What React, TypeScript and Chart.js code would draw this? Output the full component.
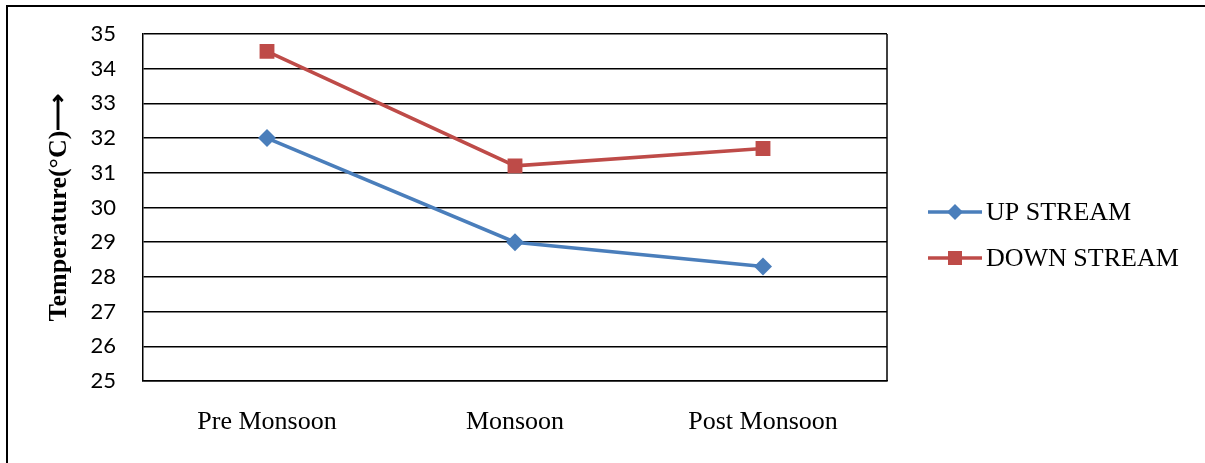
import React, { useEffect, useRef } from "react";
import { Chart, registerables } from "chart.js";

Chart.register(...registerables);

const seasons = ["Pre Monsoon", "Monsoon", "Post Monsoon"];
const upStream = [32, 29, 28.3];
const downStream = [34.5, 31.2, 31.7];
const seriesNames = ["UP STREAM", "DOWN STREAM"];
const yMin = 25;
const yMax = 35;

const BLUE = "#4A7EBB";
const RED = "#BE4B48";

// Frame line on the right edge of the plot area
const rightBorder = {
  id: "rightBorder",
  afterDatasetsDraw(chart: any) {
    const { ctx, chartArea } = chart;
    ctx.save();
    ctx.strokeStyle = "#000";
    ctx.lineWidth = 1.5;
    ctx.beginPath();
    ctx.moveTo(chartArea.right, chartArea.top);
    ctx.lineTo(chartArea.right, chartArea.bottom);
    ctx.stroke();
    ctx.restore();
  },
};

// Legend: line with centred marker, then the series name
const lineLegend = {
  id: "lineLegend",
  afterDraw(chart: any) {
    const { ctx } = chart;
    const x0 = 928;
    const x1 = 982;
    const rows = [212, 258];
    chart.data.datasets.forEach((ds: any, i: number) => {
      const y = rows[i];
      ctx.save();
      ctx.strokeStyle = ds.borderColor;
      ctx.lineWidth = 3.5;
      ctx.beginPath();
      ctx.moveTo(x0, y);
      ctx.lineTo(x1, y);
      ctx.stroke();
      ctx.fillStyle = ds.pointBackgroundColor;
      ctx.beginPath();
      const cx = (x0 + x1) / 2;
      if (ds.pointStyle === "rectRot") {
        const r = 8;
        ctx.moveTo(cx - r, y);
        ctx.lineTo(cx, y - r);
        ctx.lineTo(cx + r, y);
        ctx.lineTo(cx, y + r);
        ctx.closePath();
      } else {
        const s = 14;
        ctx.rect(cx - s / 2, y - s / 2, s, s);
      }
      ctx.fill();
      ctx.fillStyle = "#000";
      ctx.font = "26px 'Liberation Serif', 'Times New Roman', serif";
      ctx.textBaseline = "middle";
      ctx.textAlign = "left";
      ctx.fillText(ds.label, 986, y + 1);
      ctx.restore();
    });
  },
};

export default function App() {
  const canvasRef = useRef<HTMLCanvasElement | null>(null);

  useEffect(() => {
    if (!canvasRef.current) return;
    const chart = new Chart(canvasRef.current, {
      type: "line",
      data: {
        labels: seasons,
        datasets: [
          {
            label: seriesNames[0],
            data: upStream,
            borderColor: BLUE,
            backgroundColor: BLUE,
            pointBackgroundColor: BLUE,
            pointBorderColor: BLUE,
            pointStyle: "rectRot",
            pointRadius: 9,
            pointBorderWidth: 0,
            borderWidth: 3.5,
            tension: 0,
          },
          {
            label: seriesNames[1],
            data: downStream,
            borderColor: RED,
            backgroundColor: RED,
            pointBackgroundColor: RED,
            pointBorderColor: RED,
            pointStyle: "rect",
            pointRadius: 10.5,
            pointBorderWidth: 0,
            borderWidth: 3.5,
            tension: 0,
          },
        ],
      },
      options: {
        responsive: false,
        animation: false,
        layout: { padding: { top: 34, right: 318, left: 0, bottom: 0 } },
        plugins: {
          legend: { display: false },
          tooltip: { enabled: false },
        },
        scales: {
          x: {
            offset: true,
            grid: { display: false, drawTicks: false },
            border: { display: true, color: "#000", width: 1.5 },
            ticks: {
              color: "#000",
              padding: 26,
              font: { family: "'Liberation Serif', 'Times New Roman', serif", size: 26 },
            },
            afterFit(scale: any) {
              scale.height = 82;
            },
          },
          y: {
            min: yMin,
            max: yMax,
            grid: {
              color: "#000",
              lineWidth: 1.5,
              drawTicks: true,
              tickLength: 19,
              tickColor: "rgba(0,0,0,0)",
            },
            border: { display: true, color: "#000", width: 1.5 },
            ticks: {
              stepSize: 1,
              color: "#000",
              padding: 8,
              font: { family: "Lato, 'Open Sans', sans-serif", size: 22 },
            },
            title: {
              display: true,
              text: "Temperature(°C)⟶",
              color: "#000",
              padding: { top: 44, bottom: 0 },
              font: {
                family: "'Liberation Serif', 'Times New Roman', serif",
                size: 26,
                weight: "bold",
              },
            },
            afterFit(scale: any) {
              scale.width = 143;
            },
          },
        },
      },
      plugins: [rightBorder, lineLegend],
    });
    return () => chart.destroy();
  }, []);

  return (
    <div style={{ position: "fixed", left: 0, top: 0, width: 1205, height: 463, background: "#fff", overflow: "hidden" }}>
      <div
        style={{
          position: "absolute",
          left: 6,
          top: 5,
          width: 1300,
          height: 600,
          borderTop: "2px solid #000",
          borderLeft: "2px solid #000",
        }}
      />
      <canvas
        ref={canvasRef}
        width={1205}
        height={463}
        style={{ position: "absolute", left: 0, top: 0 }}
      />
    </div>
  );
}
